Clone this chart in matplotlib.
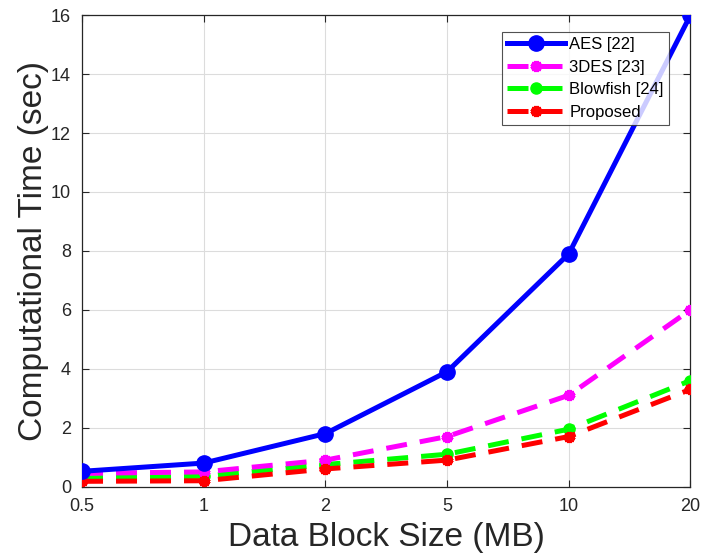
import matplotlib.pyplot as plt

plt.rcParams['font.family'] = ['Liberation Sans', 'DejaVu Sans']

sizes = ['0.5', '1', '2', '5', '10', '20']
aes = [0.52, 0.8, 1.8, 3.9, 7.9, 16.0]
des3 = [0.45, 0.5, 0.9, 1.7, 3.1, 6.0]
blowfish = [0.3, 0.35, 0.75, 1.1, 1.95, 3.6]
proposed = [0.18, 0.2, 0.6, 0.9, 1.7, 3.3]

fig = plt.figure(figsize=(7.01, 5.6), dpi=100)
ax = fig.add_axes([0.117, 0.131, 0.868, 0.842])

x = list(range(len(sizes)))
star = (6, 2, 0)
dash = (4.2, 2.6)

ax.plot(x, aes, '-', color='#0000ff', lw=3.6, marker='o', ms=11, label='AES [22]', zorder=5)
ax.plot(x, des3, '--', color='#ff00ff', lw=3.6, dashes=dash, marker=star, ms=8, mew=3.5,
        label='3DES [23]', zorder=4)
ax.plot(x, blowfish, '--', color='#00ff00', lw=3.6, dashes=dash, marker='o', ms=8,
        label='Blowfish [24]', zorder=3)
ax.plot(x, proposed, '--', color='#ff0000', lw=3.6, dashes=dash, marker=star, ms=8, mew=3.5,
        label='Proposed', zorder=4)

ax.set_xlim(0, 5)
ax.set_ylim(0, 16)
ax.set_xticks(x)
ax.set_xticklabels(sizes)
ax.set_yticks(range(0, 17, 2))
ax.grid(True, color='#dcdcdc', lw=0.8)
ax.set_axisbelow(True)
ax.tick_params(direction='in', length=5, labelsize=13, colors='#262626',
               top=True, right=True, pad=8)
for s in ax.spines.values():
    s.set_color('#262626')
    s.set_linewidth(0.9)

ax.set_xlabel('Data Block Size (MB)', fontsize=24, color='#262626', labelpad=5)
ax.set_ylabel('Computational Time (sec)', fontsize=24, color='#262626', labelpad=1)

leg = ax.legend(loc='upper right', bbox_to_anchor=(0.964, 0.964), fontsize=12,
                frameon=True, fancybox=False, edgecolor='#262626', borderpad=0.3,
                handlelength=3.5, labelspacing=0.45, handletextpad=0.25,
                borderaxespad=0.0)
leg.get_frame().set_linewidth(0.8)

fig.savefig('out.png', dpi=100)
